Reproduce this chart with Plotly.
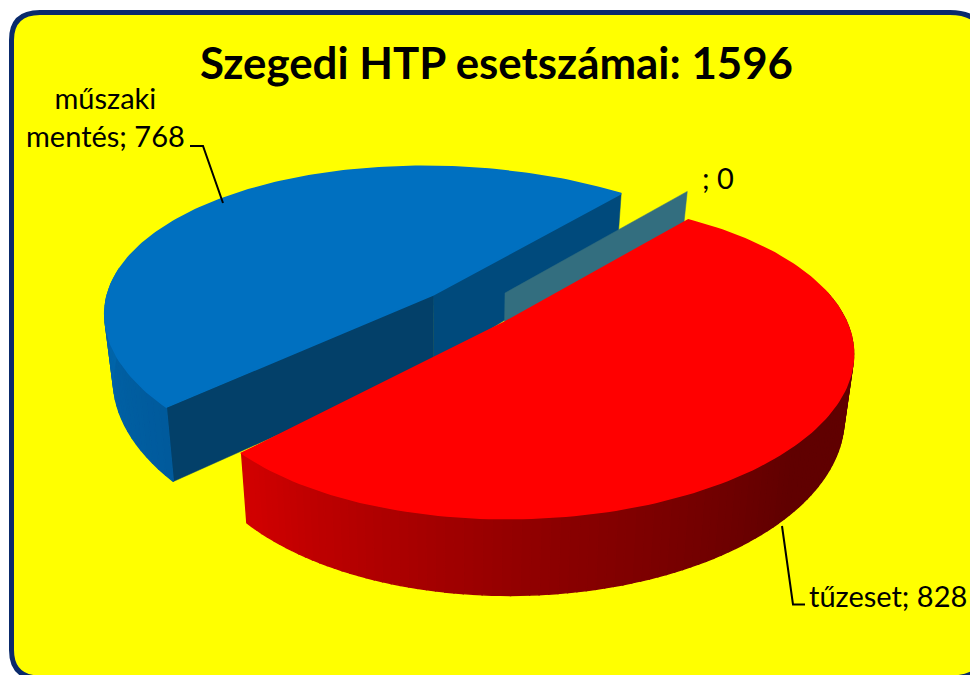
import numpy as np
import plotly.graph_objects as go

CATEGORIES = ["műszaki mentés", "tűzeset", ""]
VALUES = [768, 828, 0]
TITLE_PREFIX = "Szegedi HTP esetszámai"

W, H = 970, 675
PERSP = 0.22
START = -46.0
FONT = "Lato, Carlito, sans-serif"

# per-wedge view parameters: centre of the ellipse, drawn tip, axis scales, tilt and depth
VIEW = {
    "blue": dict(c=(442, 291), tip=(433, 295), A=335, B=152, s=35, t=-5, r=1.0, h=64),
    "red": dict(c=(512, 325), tip=(505, 322), A=325, B=150, s=30, t=-20, r=1.0, h=60),
    "teal": dict(c=(505, 293), tip=(505, 293), A=335, B=156, s=35, t=-5, r=1.02, h=60),
}


def project(v, theta, z=0.0):
    th = np.radians(theta)
    X, Y = v["r"] * np.cos(th), v["r"] * np.sin(th)
    w = 1 - PERSP * Y
    x = v["c"][0] + (v["A"] * X + v["s"] * Y) / w
    y = v["c"][1] + (v["B"] * Y + v["t"] * X) / w + z * v["h"] / w
    x = 460 + (x - 460) * (1 - 0.024 * z)
    return x, y


def tip_bottom(v):
    x = 460 + (v["tip"][0] - 460) * (1 - 0.024)
    return x, v["tip"][1] + 70


def poly(fig, xs, ys, color, lw=1.4):
    fig.add_trace(go.Scatter(x=list(xs), y=list(ys), mode="lines", fill="toself",
                             fillcolor=color, line=dict(color=color, width=lw),
                             hoverinfo="skip", showlegend=False))


def lerp_stops(stops, t):
    t = max(stops[0][0], min(stops[-1][0], t))
    for (a, ca), (b, cb) in zip(stops, stops[1:]):
        if a <= t <= b:
            f = (t - a) / (b - a)
            c = [round(ca[i] + (cb[i] - ca[i]) * f) for i in range(3)]
            return f"rgb({c[0]},{c[1]},{c[2]})"
    return "rgb(0,0,0)"


def rim(fig, v, edges, stops):
    for t0, t1 in zip(edges, edges[1:]):
        a, b = project(v, np.array([t0, t1]))
        c, d = project(v, np.array([t1, t0]), z=1)
        poly(fig, list(a) + list(c) + [a[0]], list(b) + list(d) + [b[0]],
             lerp_stops(stops, (t0 + t1) / 2))


def top(fig, v, a0, a1, color):
    x, y = project(v, np.linspace(a0, a1, 160))
    tx, ty = v["tip"]
    poly(fig, [tx, *x, tx], [ty, *y, ty], color, lw=1.6)


total = sum(VALUES)
red_span = 360.0 * VALUES[1] / total
blue_span = 360.0 * VALUES[0] / total
red_a0, red_a1 = START, START + red_span
blue_a0, blue_a1 = red_a1, red_a1 + blue_span

fig = go.Figure()

# blue wedge: walls, rim, top
v = VIEW["blue"]
tx, ty = v["tip"]
bx, by = tip_bottom(v)
for theta, col in [(blue_a1, "#004a7c"), (blue_a0, "#034069")]:
    x0, y0 = project(v, theta)
    x1, y1 = project(v, theta, z=1)
    poly(fig, [tx, x0, x1, bx, tx], [ty, y0, y1, by, ty], col, lw=0.5)
rim(fig, v, np.linspace(blue_a0, blue_a0 + 50, 26),
    [(blue_a0, (0, 90, 156)), (blue_a0 + 50, (0, 104, 173))])
top(fig, v, blue_a0, blue_a1, "#0070c0")

# zero-value wedge: only one wall
v = VIEW["teal"]
tx, ty = v["tip"]
bx, by = tip_bottom(v)
x0, y0 = project(v, START)
x1, y1 = project(v, START, z=1)
poly(fig, [tx, x0, x1, bx, tx], [ty, y0, y1, by, ty], "#336e7f", lw=0.5)

# red wedge: rim, top
v = VIEW["red"]
rim(fig, v, np.linspace(-5, red_a1, 110),
    [(0, (96, 0, 0)), (50, (96, 0, 0)), (88, (138, 0, 0)), (138, (208, 0, 0))])
top(fig, v, red_a0, red_a1, "#ff0000")

# leader lines
for lx, ly in [([190, 203, 223], [146, 146, 203]), ([782, 793, 805], [526, 604.5, 604.5])]:
    fig.add_trace(go.Scatter(x=lx, y=ly, mode="lines", line=dict(color="black", width=2),
                             hoverinfo="skip", showlegend=False))

labels = [
    (105, 116, f"műszaki<br>mentés; {VALUES[0]}"),
    (888, 595, f"{CATEGORIES[1]}; {VALUES[1]}"),
    (718, 177, f"{CATEGORIES[2]}; {VALUES[2]}"),
]
annotations = [dict(x=a, y=b, text=t, showarrow=False, xref="x", yref="y",
                    font=dict(family=FONT, size=29, color="#000000"), align="center")
               for a, b, t in labels]
annotations.append(dict(x=496, y=62, text=f"<b>{TITLE_PREFIX}: {total}</b>", showarrow=False,
                        xref="x", yref="y", font=dict(family=FONT, size=43.8, color="#000000")))

border = ("M 11.5 40 Q 11.5 12.5 40 12.5 L 950 12.5 Q 985 12.5 985 45 L 985 650 "
          "Q 985 678 950 678 L 40 678 Q 11.5 678 11.5 650 Z")
fig.update_layout(
    width=W, height=H, margin=dict(l=0, r=0, t=0, b=0, pad=0),
    paper_bgcolor="#ffffff", plot_bgcolor="rgba(0,0,0,0)", showlegend=False,
    xaxis=dict(range=[0, W], visible=False, fixedrange=True),
    yaxis=dict(range=[H, 0], visible=False, fixedrange=True),
    annotations=annotations,
    shapes=[dict(type="path", path=border, xref="x", yref="y", layer="below",
                 fillcolor="#ffff00", line=dict(color="#0a2a6b", width=5))],
)
fig.write_html("out.html", post_script="document.body.style.margin='0';document.body.style.overflow='hidden';",
               config={"displayModeBar": False})
